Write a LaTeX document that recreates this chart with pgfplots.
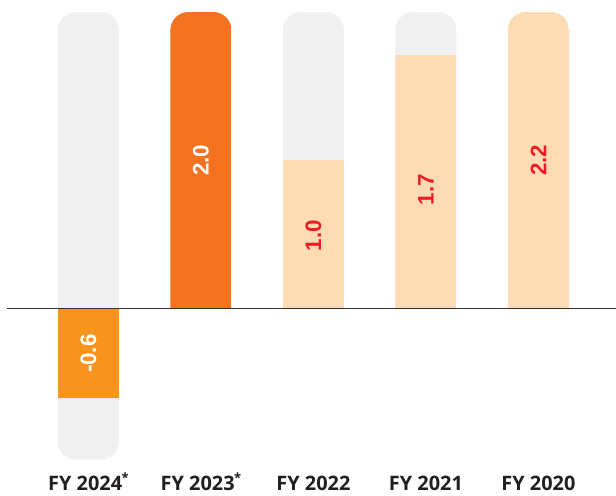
\documentclass[border=0pt]{standalone}
\usepackage{fontspec}
\setmainfont{Open Sans}
\newfontfamily\valfont{Liberation Sans}
\usepackage{pgfplots}
\pgfplotsset{compat=1.18}
\definecolor{bggray}{HTML}{F0F0F0}
\definecolor{darkorange}{HTML}{F37321}
\definecolor{midorange}{HTML}{F7941D}
\definecolor{peach}{HTML}{FDDBB4}
\definecolor{vred}{HTML}{ED1C24}
\definecolor{labelcol}{HTML}{231F20}
\definecolor{zeroline}{HTML}{333333}
\newcommand{\fyast}{\kern-0.5pt\raisebox{0.42em}{\fontsize{13}{13}\selectfont *}}
\begin{document}
\begin{tikzpicture}
\begin{axis}[
  width=616bp, height=496bp, scale only axis,
  xmin=-0.786, xmax=4.685, ymin=-1.252, ymax=2.069,
  axis line style={draw=none},
  ytick=\empty,
  xtick={0,1,2,3,4},
  xticklabels={FY 2024\fyast,FY 2023\fyast,FY 2022,FY 2021,FY 2020},
  major tick length=0pt,
  xticklabel style={anchor=base, yshift=5bp, font=\bfseries\fontsize{20}{21}\selectfont, text=labelcol},
  ybar, bar width=0.542, bar shift=0pt,
  clip=false,
]
\begin{scope}
\clip[rounded corners=18bp]
  (axis cs:-0.271,-1.011) rectangle (axis cs:0.271,1.989)
  (axis cs:0.729,-1.011) rectangle (axis cs:1.271,1.989)
  (axis cs:1.729,-1.011) rectangle (axis cs:2.271,1.989)
  (axis cs:2.729,-1.011) rectangle (axis cs:3.271,1.989)
  (axis cs:3.729,-1.011) rectangle (axis cs:4.271,1.989);
\addplot[fill=bggray, draw=none] coordinates {(0,1.989) (1,1.989) (2,1.989) (3,1.989) (4,1.989)};
\addplot[fill=bggray, draw=none] coordinates {(0,-1.011)};
\addplot[fill=midorange, draw=none] coordinates {(0,-0.6)};
\addplot[fill=darkorange, draw=none] coordinates {(1,2.0)};
\addplot[fill=peach, draw=none] coordinates {(2,1.0)};
\addplot[fill=peach, draw=none] coordinates {(3,1.7)};
\addplot[fill=peach, draw=none] coordinates {(4,2.2)};
\end{scope}
\draw[color=zeroline, line width=1bp] (axis cs:-0.724,0) -- (axis cs:4.685,0);
\node[rotate=90, font=\valfont\bfseries\fontsize{22.5}{23}\selectfont, text=white] at (axis cs:0,-0.3) {-0.6};
\node[rotate=90, font=\valfont\bfseries\fontsize{22.5}{23}\selectfont, text=white] at (axis cs:1,0.995) {2.0};
\node[rotate=90, font=\valfont\bfseries\fontsize{22.5}{23}\selectfont, text=vred] at (axis cs:2,0.49) {1.0};
\node[rotate=90, font=\valfont\bfseries\fontsize{22.5}{23}\selectfont, text=vred] at (axis cs:3,0.80) {1.7};
\node[rotate=90, font=\valfont\bfseries\fontsize{22.5}{23}\selectfont, text=vred] at (axis cs:4,0.995) {2.2};
\end{axis}
\end{tikzpicture}
\end{document}
